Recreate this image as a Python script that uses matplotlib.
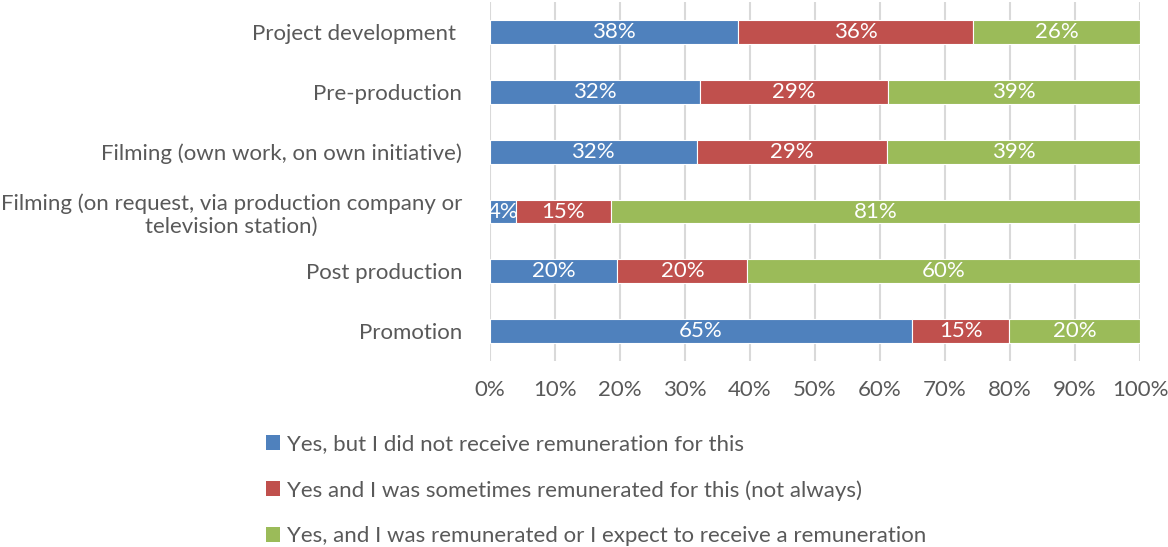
import matplotlib.pyplot as plt
import numpy as np
from matplotlib.patches import Patch

plt.rcParams['font.family'] = ['Lato', 'DejaVu Sans']

# categories, top to bottom
categories = [
    "Project development ",
    "Pre-production",
    "Filming (own work, on own initiative)",
    "Filming (on request, via production company or\ntelevision station)",
    "Post production",
    "Promotion",
]
no_pay = [38.2, 32.3, 31.8, 4.0, 19.6, 64.9]
sometimes = [36.1, 29.0, 29.3, 14.6, 20.0, 15.0]
paid = [25.7, 38.7, 38.9, 81.4, 60.4, 20.1]

series_names = [
    "Yes, but I did not receive remuneration for this",
    "Yes and I was sometimes remunerated for this (not always)",
    "Yes, and I was remunerated or I expect to receive a remuneration",
]
colors = ["#4F81BD", "#C0504D", "#9BBB59"]
text_col = "#595959"

fig = plt.figure(figsize=(11.68, 5.47), dpi=100)
ax = fig.add_axes([0.4195, 0.340, 0.5565, 0.656])

y = np.arange(len(categories))
left = np.zeros(len(categories))
for vals, col in zip([no_pay, sometimes, paid], colors):
    vals = np.array(vals)
    bars = ax.barh(y, vals, left=left, height=0.4, color=col,
                   edgecolor="white", linewidth=0.8, zorder=3)
    for b, v in zip(bars, vals):
        ax.text(b.get_x() + b.get_width() / 2, b.get_y() + b.get_height() / 2,
                f"{v:.0f}%", ha="center", va="center", color="white",
                fontsize=16, zorder=4)
    left += vals

ax.set_xlim(0, 100)
ax.set_ylim(len(categories) - 0.5, -0.5)
ax.set_xticks(np.arange(0, 101, 10))
ax.set_xticklabels([f"{t}%" for t in range(0, 101, 10)])
ax.set_yticks(y)
ax.set_yticklabels(categories)
ax.tick_params(axis="both", length=0, labelsize=16, labelcolor=text_col)
ax.tick_params(axis="x", pad=14)
ax.tick_params(axis="y", pad=20)
for lab in ax.get_yticklabels():
    lab.set_multialignment("center")
ax.grid(axis="x", color="#D9D9D9", linewidth=1.5, zorder=0)
for s in ax.spines.values():
    s.set_visible(False)

handles = [Patch(facecolor=c, edgecolor="none") for c in colors]
fig.legend(handles, series_names, loc="upper left",
           bbox_to_anchor=(0.220, 0.222), frameon=False, fontsize=16,
           labelcolor=text_col, handlelength=0.65, handleheight=0.65,
           handletextpad=0.3, labelspacing=1.15, borderaxespad=0)

fig.savefig("out.png", dpi=100)
